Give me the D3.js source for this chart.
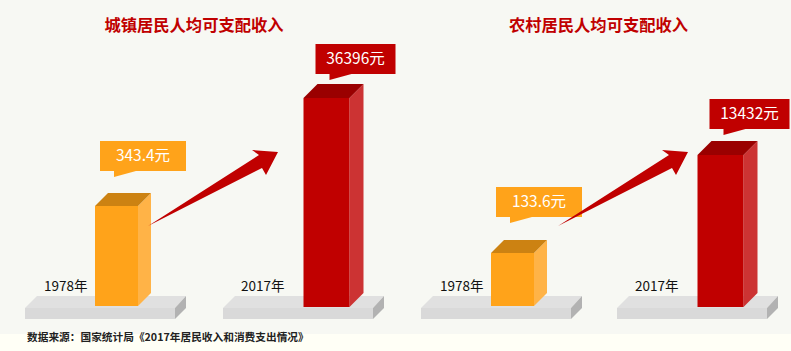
<!DOCTYPE html>
<html>
<head>
<meta charset="utf-8">
<script src="https://cdn.jsdelivr.net/npm/d3@7/dist/d3.min.js"></script>
<style>
  html, body { margin: 0; padding: 0; background: #fffff6; }
  svg { display: block; font-family: "Noto Sans CJK SC", sans-serif; }
</style>
</head>
<body>
<div id="chart"></div>
<script>
// Daten
const panels = ["城镇居民人均可支配收入", "农村居民人均可支配收入"];
const years = ["1978年", "2017年"];
const urbanValues = [343.4, 36396];
const ruralValues = [133.6, 13432];
const source = "数据来源：国家统计局《2017年居民收入和消费支出情况》";

const W = 791, H = 351;
const cOrange = "#ffa31a", cOrangeTop = "#cc8212", cOrangeSide = "#ffb347";
const cRed = "#c00000", cRedTop = "#9a0000", cRedSide = "#cc3333";

const svg = d3.select("#chart").append("svg")
  .attr("width", W)
  .attr("height", H);

// Hintergrund
svg.append("rect").attr("width", W).attr("height", 334).attr("fill", "#f7f8f3");

// Die Säulen im Original sind nicht maßstäblich, daher stückweise lineare Skala
const barHeight = d3.scaleLinear()
  .domain([133.6, 343.4, 13432, 36396])
  .range([53, 100, 152, 209]);

const depth = 13;

function poly(g, pts, fill) {
  return g.append("polygon")
    .attr("points", pts.map(p => p.join(",")).join(" "))
    .attr("fill", fill);
}

function drawPanel({ title, values, left, right, inner, titleX, arrowDx, calloutUp }) {
  const g = svg.append("g");
  const x = d3.scaleBand().domain(years).range([left, right]).paddingInner(inner);
  const bw = x.bandwidth();

  g.append("text")
    .attr("x", titleX).attr("y", 31)
    .attr("text-anchor", "middle")
    .style("font-size", "16.3px")
    .style("font-weight", "700")
    .style("fill", cRed)
    .text(title);

  years.forEach((year, i) => {
    const x0 = x(year);
    const isOld = i === 0;

    // Sockel
    poly(g, [[x0, 308], [x0 + 12, 296], [x0 + bw + 11, 296], [x0 + bw, 308]], "#e0e0e0");
    poly(g, [[x0, 308], [x0 + bw, 308], [x0 + bw, 319], [x0, 319]], "#d9d9d9");
    poly(g, [[x0 + bw, 308], [x0 + bw + 11, 296], [x0 + bw + 11, 308], [x0 + bw, 319]], "#b2b2b2");

    // Säule
    const bx = x0 + (isOld ? 70 : 80.5);
    const bwid = isOld ? 43 : 46;
    const d = isOld ? depth : 14;
    const bottom = isOld ? 306 : 307;
    const top = bottom - barHeight(values[i]);
    poly(g, [[bx + bwid, top], [bx + bwid + d, top - d], [bx + bwid + d, bottom - d], [bx + bwid, bottom]],
      isOld ? cOrangeSide : cRedSide);
    poly(g, [[bx, top], [bx + d, top - d], [bx + bwid + d, top - d], [bx + bwid, top]],
      isOld ? cOrangeTop : cRedTop);
    g.append("rect")
      .attr("x", bx).attr("y", top)
      .attr("width", bwid).attr("height", bottom - top)
      .attr("fill", isOld ? cOrange : cRed);

    // Jahr
    g.append("text")
      .attr("x", x0 + (isOld ? 19 : 18)).attr("y", 291)
      .style("font-size", "13.5px")
      .style("fill", "#111")
      .text(year);

    // Sprechblase
    const cw = isOld ? 86 : 80;
    const ch = 30;
    const cx = Math.round(bx) + (isOld ? 5 : 11.5);
    const cy = top - calloutUp[i];
    g.append("path")
      .attr("d", `M${cx},${cy}h${cw}v${ch}H${cx + 36}L${cx + 14},${cy + ch + 6}V${cy + ch}H${cx}Z`)
      .attr("fill", isOld ? cOrange : cRed);
    g.append("text")
      .attr("x", cx + cw / 2).attr("y", cy + 20)
      .attr("text-anchor", "middle")
      .style("font-size", "15.5px")
      .style("fill", "#fff")
      .text(values[i] + "元");
  });

  // Pfeil
  poly(g, [[148, 226], [259, 155], [252, 150], [278, 152], [266, 175], [262, 168]]
    .map(p => [p[0] + arrowDx, p[1]]), cRed);
}

drawPanel({ title: panels[0], values: urbanValues, left: 25, right: 373, inner: 48 / 198,
  titleX: 194, arrowDx: 0, calloutUp: [65, 54] });
drawPanel({ title: panels[1], values: ruralValues, left: 421, right: 767, inner: 46 / 196,
  titleX: 598.5, arrowDx: 410, calloutUp: [66, 56] });

// Quelle
svg.append("text")
  .attr("x", 27).attr("y", 341)
  .style("font-size", "10.7px")
  .style("font-weight", "700")
  .style("fill", "#222")
  .text(source);
</script>
</body>
</html>
